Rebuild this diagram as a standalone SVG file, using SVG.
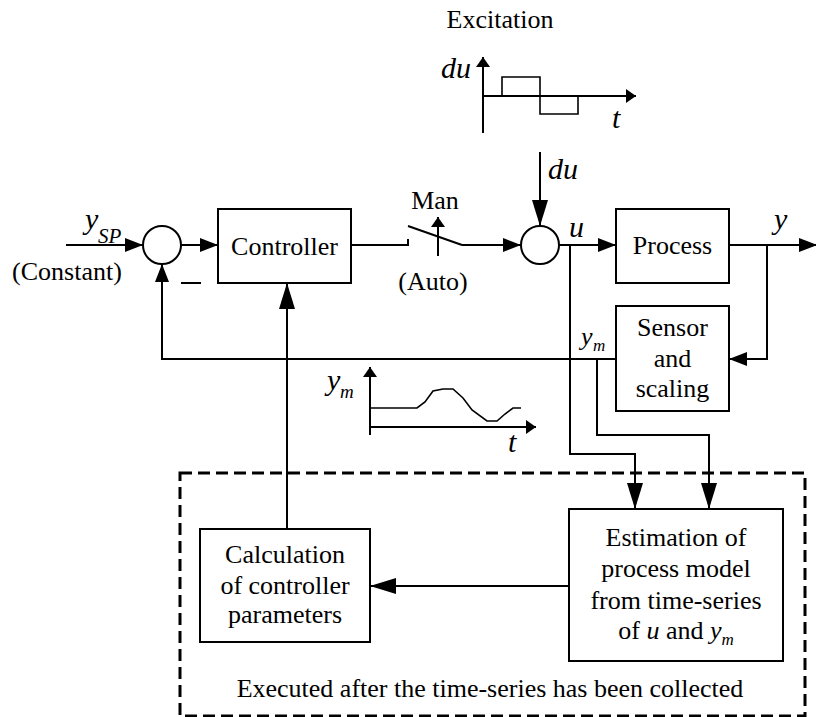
<svg xmlns="http://www.w3.org/2000/svg" width="816" height="717" viewBox="0 0 816 717">
  <style>
    text { font-family: "Liberation Serif", "Times New Roman", serif; font-size: 26px; fill: #000; }
    .c { text-anchor: middle; }
    .var { font-style: italic; font-size: 30px; }
    .sub { font-style: italic; font-size: 19px; }
    .box { fill: #fff; stroke: #000; stroke-width: 2; }
    .sum { fill: #fff; stroke: #000; stroke-width: 2; }
    .wire { fill: none; stroke: #000; stroke-width: 2; }
    .thin { fill: none; stroke: #000; stroke-width: 1.6; }
    .dash { fill: none; stroke: #000; stroke-width: 3; stroke-dasharray: 12 6; }
  </style>
  <defs>
    <!-- standard arrowhead for the signal lines -->
    <marker id="arr" viewBox="0 0 18 14" refX="18" refY="7" markerWidth="18" markerHeight="14" orient="auto" markerUnits="userSpaceOnUse">
      <path d="M0,0 L18,7 L0,14 z" fill="#000"/>
    </marker>
    <!-- longer arrowhead used on the tuning path -->
    <marker id="arrL" viewBox="0 0 26 16" refX="26" refY="8" markerWidth="26" markerHeight="16" orient="auto" markerUnits="userSpaceOnUse">
      <path d="M0,0 L26,8 L0,16 z" fill="#000"/>
    </marker>
    <!-- small arrowhead for plot axes and the switch -->
    <marker id="arrS" viewBox="0 0 10 14" refX="10" refY="7" markerWidth="10" markerHeight="14" orient="auto" markerUnits="userSpaceOnUse">
      <path d="M0,0 L10,7 L0,14 z" fill="#000"/>
    </marker>
  </defs>

  <!-- execution boundary for the offline tuning part -->
  <g id="offline-boundary">
    <rect x="180" y="473" width="625" height="243" class="dash"/>
    <text x="490" y="697" class="c">Executed after the time-series has been collected</text>
  </g>

  <g id="connectors">
    <!-- setpoint into first summing junction -->
    <path d="M66,245 H143" class="wire" marker-end="url(#arr)"/>
    <!-- sum -> controller -->
    <path d="M181,245 H218" class="wire" marker-end="url(#arr)"/>
    <!-- controller -> switch -->
    <path d="M351,245 H408 V239" class="wire"/>
    <!-- switch -> second summing junction -->
    <path d="M462,245 H521" class="wire" marker-end="url(#arr)"/>
    <!-- excitation input -->
    <path d="M540,152 V226" class="wire" marker-end="url(#arrL)"/>
    <!-- u -> process -->
    <path d="M559,245 H616" class="wire" marker-end="url(#arr)"/>
    <!-- process output y -->
    <path d="M729,245 H817" class="wire" marker-end="url(#arr)"/>
    <!-- y -> sensor -->
    <path d="M767,245 V359 H729" class="wire" marker-end="url(#arr)"/>
    <!-- measurement feedback to first junction -->
    <path d="M616,359 H162 V264" class="wire" marker-end="url(#arr)"/>
    <!-- u sampled for estimation -->
    <path d="M570,245 V454 H635 V509" class="wire" marker-end="url(#arrL)"/>
    <!-- ym sampled for estimation -->
    <path d="M597,359 V435 H709 V509" class="wire" marker-end="url(#arrL)"/>
    <!-- estimation -> calculation -->
    <path d="M569,586 H370" class="wire" marker-end="url(#arrL)"/>
    <!-- new parameters -> controller -->
    <path d="M287,529 V283" class="wire" marker-end="url(#arrL)"/>
  </g>

  <!-- connector labels -->
  <g id="labels">
    <text x="85" y="229" class="var">y</text>
    <text x="98" y="243" class="sub" style="font-size:21px">SP</text>
    <text x="67" y="280" class="c">(Constant)</text>
    <line x1="181" y1="283" x2="201" y2="283" stroke="#000" stroke-width="2"/>
    <text x="548" y="179" class="var">du</text>
    <text x="569" y="237" class="var">u</text>
    <text x="774" y="229" class="var">y</text>
    <text x="581" y="345" class="var" style="font-size:26px">y</text>
    <text x="593" y="351" class="sub" style="font-size:17px">m</text>
  </g>

  <g id="sum1">
    <circle cx="162" cy="245" r="19" class="sum"/>
  </g>

  <g id="controller">
    <rect x="218" y="209" width="133" height="74" class="box"/>
    <text x="284.5" y="255" class="c">Controller</text>
  </g>

  <g id="switch">
    <line x1="408" y1="226" x2="462" y2="245" class="wire"/>
    <path d="M438,256 V217" class="wire" marker-end="url(#arrS)"/>
    <text x="435" y="209" class="c">Man</text>
    <text x="433" y="290" class="c">(Auto)</text>
  </g>

  <g id="sum2">
    <circle cx="540" cy="245" r="19" class="sum"/>
  </g>

  <g id="process">
    <rect x="616" y="209" width="113" height="74" class="box"/>
    <text x="672.5" y="254" class="c">Process</text>
  </g>

  <g id="sensor">
    <rect x="616" y="306" width="113" height="105" class="box"/>
    <text x="672.5" y="336" class="c">Sensor</text>
    <text x="672.5" y="367" class="c">and</text>
    <text x="672.5" y="397" class="c">scaling</text>
  </g>

  <g id="calculation">
    <rect x="200" y="529" width="170" height="113" class="box"/>
    <text x="285" y="563" class="c">Calculation</text>
    <text x="285" y="594" class="c">of controller</text>
    <text x="285" y="623" class="c">parameters</text>
  </g>

  <g id="estimation">
    <rect x="569" y="509" width="214" height="152" class="box"/>
    <text x="676" y="546" class="c">Estimation of</text>
    <text x="676" y="577" class="c">process model</text>
    <text x="676" y="609" class="c">from time-series</text>
    <text x="676" y="639" class="c">of <tspan font-style="italic">u</tspan> and <tspan font-style="italic">y</tspan><tspan style="font-style:italic;font-size:17px" dy="6">m</tspan></text>
  </g>

  <!-- excitation signal sketch -->
  <g id="excitation">
    <text x="500" y="28" class="c">Excitation</text>
    <path d="M483,133 V57" class="wire" marker-end="url(#arrS)"/>
    <path d="M483,96 H636" class="wire" marker-end="url(#arrS)"/>
    <path d="M483,96 H502 V77 H540 V114 H578 V96" class="thin"/>
    <text x="441" y="78" class="var">du</text>
    <text x="612" y="128" class="var">t</text>
  </g>

  <!-- measured output sketch -->
  <g id="ym-plot">
    <path d="M370,435 V367" class="wire" marker-end="url(#arrS)"/>
    <path d="M370,427 H536" class="wire" marker-end="url(#arrS)"/>
    <polyline points="370,408 417,408 425,402 433,391 443,389 453,389 463,398 472,410 487,421 497,421 505,414 513,408 521,408" class="thin"/>
    <text x="327" y="390" class="var">y</text>
    <text x="340" y="398" class="sub">m</text>
    <text x="508" y="452" class="var">t</text>
  </g>
</svg>
